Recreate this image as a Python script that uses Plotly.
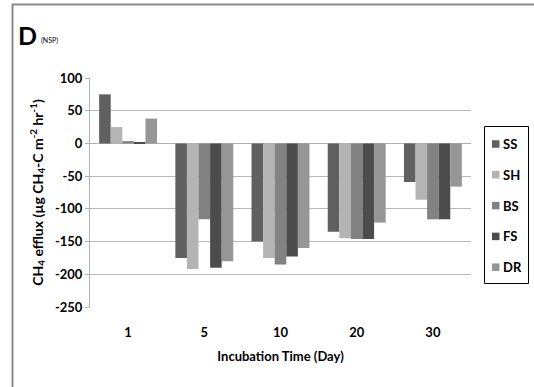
import plotly.graph_objects as go

days = ["1", "5", "10", "20", "30"]
series_names = ["SS", "SH", "BS", "FS", "DR"]
ss = [75, -175, -150, -135, -59]
sh = [25, -192, -175, -145, -86]
bs = [3.5, -116, -185, -146, -116]
fs = [1.5, -190, -173, -146, -116]
dr = [38, -180, -160, -121, -66]
y_ticks = [100, 50, 0, -50, -100, -150, -200, -250]
y_tick_labels = [str(v) for v in y_ticks]

colors = ["#606060", "#b4b4b4", "#828282", "#4c4c4c", "#969696"]
values = [ss, sh, bs, fs, dr]

W, H = 534, 387
L, R, T, B = 90, 471, 78, 307
FONT = "Lato"

fig = go.Figure()
for name, vals, col in zip(series_names, values, colors):
    fig.add_trace(go.Bar(x=days, y=vals, name=name, marker=dict(color=col, line=dict(width=0)),
                         showlegend=False))

def px_x(px):
    return (px - L) / (R - L)

def px_y(py):
    return (B - py) / (B - T)

shapes = [
    dict(type="line", xref="paper", yref="paper", x0=px_x(12), x1=px_x(534), y0=px_y(4.5), y1=px_y(4.5),
         line=dict(color="#8a8a8a", width=2)),
    dict(type="line", xref="paper", yref="paper", x0=px_x(12.5), x1=px_x(12.5), y0=px_y(4), y1=px_y(387),
         line=dict(color="#8a8a8a", width=2)),
    # legend box
    dict(type="rect", xref="paper", yref="paper", x0=px_x(484.5), x1=px_x(528.5), y0=px_y(126.5), y1=px_y(283.5),
         line=dict(color="black", width=1), fillcolor="white"),
]
annotations = [
    dict(text="<b>D</b>", xref="paper", yref="paper", x=px_x(16), y=px_y(35), xanchor="left",
         yanchor="middle", showarrow=False, font=dict(family=FONT, size=25, color="black")),
    dict(text="(NSP)", xref="paper", yref="paper", x=px_x(39), y=px_y(40), xanchor="left",
         yanchor="middle", showarrow=False, font=dict(family=FONT, size=7, color="black")),
]
leg_y0, leg_dy = 144, 30.8
for i, (name, col) in enumerate(zip(series_names, colors)):
    cy = leg_y0 + i * leg_dy
    shapes.append(dict(type="rect", xref="paper", yref="paper", x0=px_x(492), x1=px_x(499.5),
                       y0=px_y(cy - 3.75), y1=px_y(cy + 3.75), line=dict(width=0), fillcolor=col))
    annotations.append(dict(text="<b>%s</b>" % name, xref="paper", yref="paper", x=px_x(500.5), y=px_y(cy),
                            xanchor="left", yanchor="middle", showarrow=False,
                            font=dict(family=FONT, size=13, color="black")))

fig.update_layout(
    width=W, height=H,
    margin=dict(l=L, r=W - R, t=T, b=H - B, pad=0),
    paper_bgcolor="white", plot_bgcolor="white",
    barmode="group", bargap=0.24, bargroupgap=0,
    font=dict(family=FONT, size=12, color="black"),
    showlegend=False,
    xaxis=dict(type="category", showgrid=False, showline=False, ticks="",
               tickfont=dict(family=FONT, size=13, weight="bold"),
               ticklabelstandoff=16,
               title=dict(text="Incubation Time (Day)", standoff=12,
                          font=dict(family=FONT, size=13, weight="bold"))),
    yaxis=dict(range=[-250, 100], tickvals=y_ticks, ticktext=y_tick_labels, showgrid=True,
               gridcolor="#b8b8b8", gridwidth=1, zeroline=True, zerolinecolor="#b0b0b0", zerolinewidth=1,
               showline=True, linecolor="#b0b0b0", linewidth=1,
               ticks="outside", ticklen=4, tickcolor="#b0b0b0",
               tickfont=dict(family=FONT, size=13, weight="bold"),
               title=dict(text="CH<sub>4</sub> efflux (µg CH<sub>4</sub>-C m<sup>-2</sup> hr<sup>-1</sup>)",
                          standoff=8, font=dict(family=FONT, size=14, weight="bold"))),
    shapes=shapes,
    annotations=annotations,
)

fig.write_html("out.html")
